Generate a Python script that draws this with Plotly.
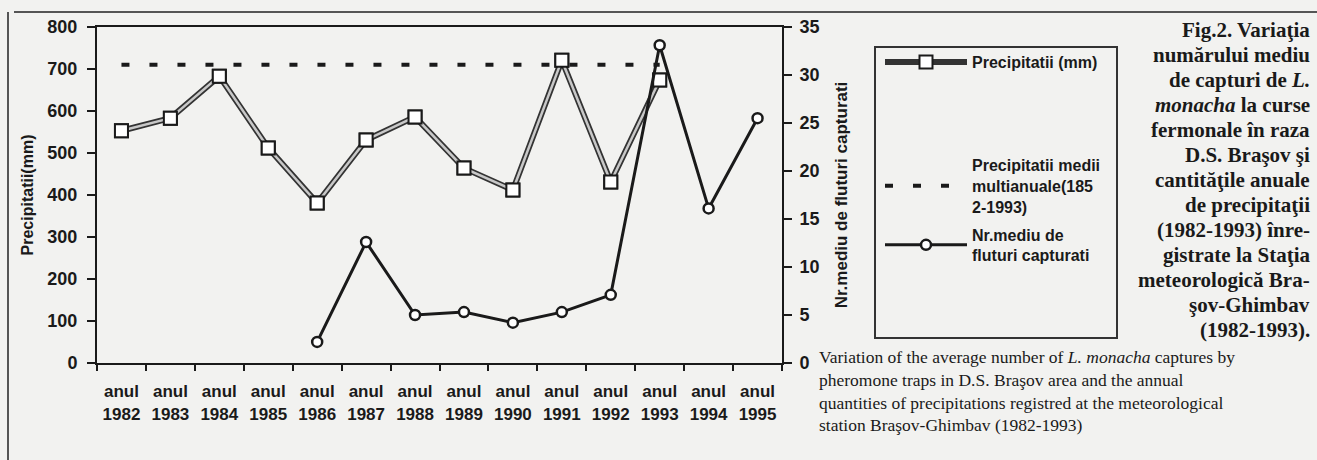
import plotly.graph_objects as go

years = ["1982", "1983", "1984", "1985", "1986", "1987", "1988",
         "1989", "1990", "1991", "1992", "1993", "1994", "1995"]
tick_labels = ["anul<br>" + y for y in years]

precip_years = years[:12]
precip_mm = [553, 583, 683, 512, 381, 531, 586, 464, 412, 721, 431, 674]
mean_precip = [710] * 12

capture_years = years[4:]
captures = [2.2, 12.6, 5.0, 5.3, 4.2, 5.3, 7.1, 33.1, 16.1, 25.5]

ro_lines = ["Fig.2. Variaţia", "numărului mediu", "de capturi de <i>L.</i>",
            "<i>monacha</i> la curse", "fermonale în raza", "D.S. Braşov şi",
            "cantităţile anuale", "de precipitaţii", "(1982-1993) înre-",
            "gistrate la Staţia", "meteorologică Bra-", "şov-Ghimbav",
            "(1982-1993)."]
en_lines = ["Variation of the average number of <i>L. monacha</i> captures by",
            "pheromone traps in D.S. Braşov area and the annual",
            "quantities of precipitations registred at the meteorological",
            "station Braşov-Ghimbav (1982-1993)"]

# plot area in pixels
L, R, T, B = 97, 782, 27, 363
W, H = 1317, 460


def px(x):
    return (x - L) / (R - L)


def py(y):
    return (B - y) / (B - T)


SANS = "Liberation Sans, Arial, sans-serif"
SERIF = "Liberation Serif, Times New Roman, serif"
INK = "#1a1a1a"

fig = go.Figure()

fig.add_trace(go.Scatter(
    x=precip_years, y=precip_mm, name="Precipitatii (mm)",
    mode="lines+markers", legend="legend",
    line=dict(color="#333333", width=6),
    marker=dict(symbol="square", size=13, color="white",
                line=dict(color=INK, width=2)),
))
fig.add_trace(go.Scatter(
    x=precip_years, y=precip_mm, mode="lines", showlegend=False,
    line=dict(color="#c8c8c8", width=2.5), hoverinfo="skip",
))
fig.add_trace(go.Scatter(
    x=precip_years, y=precip_mm, mode="markers", showlegend=False,
    marker=dict(symbol="square", size=13, color="white",
                line=dict(color=INK, width=2)), hoverinfo="skip",
))
fig.add_trace(go.Scatter(
    x=precip_years, y=mean_precip,
    name="Precipitatii medii<br>multianuale(185<br>2-1993)",
    mode="lines", legend="legend2",
    line=dict(color=INK, width=4, dash="8px,20px"),
))
fig.add_trace(go.Scatter(
    x=capture_years, y=captures, yaxis="y2",
    name="Nr.mediu de<br>fluturi capturati",
    mode="lines+markers", legend="legend3",
    line=dict(color=INK, width=3),
    marker=dict(symbol="circle", size=10, color="white",
                line=dict(color=INK, width=2.5)),
))

bg = "#f2f2f0"
legend_common = dict(
    xanchor="left", yanchor="middle", bgcolor="rgba(0,0,0,0)", borderwidth=0,
    font=dict(size=16, family=SANS, color=INK, weight="bold"), itemwidth=82,
)
fig.update_layout(
    width=W, height=H,
    margin=dict(l=L, r=W - R, t=T, b=H - B),
    paper_bgcolor=bg, plot_bgcolor=bg,
    font=dict(family=SANS, color=INK),
    xaxis=dict(
        type="category", categoryorder="array", categoryarray=years,
        tickmode="array", tickvals=years, ticktext=tick_labels,
        tickson="boundaries", ticks="outside", ticklen=6, tickwidth=2,
        tickcolor=INK, showline=True, linecolor=INK, linewidth=2,
        mirror=True, showgrid=False, range=[-0.5, 13.5],
        ticklabelstandoff=12,
        tickfont=dict(size=17, family=SANS, color=INK, weight="bold"),
    ),
    yaxis=dict(
        range=[0, 800], tickvals=[0, 100, 200, 300, 400, 500, 600, 700, 800],
        ticks="outside", ticklen=8, tickwidth=2, tickcolor=INK,
        showline=True, linecolor=INK, linewidth=2, showgrid=False,
        zeroline=False, ticklabelstandoff=6,
        tickfont=dict(size=18, family=SANS, color=INK, weight="bold"),
        title=dict(text="<b>Precipitatii(mm)</b>", standoff=10,
                   font=dict(size=16, family=SANS, color=INK)),
    ),
    yaxis2=dict(
        overlaying="y", side="right", range=[0, 35],
        tickvals=[0, 5, 10, 15, 20, 25, 30, 35],
        ticks="outside", ticklen=8, tickwidth=2, tickcolor=INK,
        showline=True, linecolor=INK, linewidth=2, showgrid=False,
        zeroline=False, ticklabelstandoff=4,
        tickfont=dict(size=18, family=SANS, color=INK, weight="bold"),
        title=dict(text="<b>Nr.mediu de fluturi capturati</b>", standoff=16,
                   font=dict(size=17, family=SANS, color=INK)),
    ),
    legend=dict(x=px(880), y=py(62), **legend_common),
    legend2=dict(x=px(880), y=py(186), **legend_common),
    legend3=dict(x=px(880), y=py(245), **legend_common),
    showlegend=True,
)

# legend frame and page frame lines
fig.add_shape(type="rect", xref="paper", yref="paper",
              x0=px(875), x1=px(1117), y0=py(338), y1=py(47),
              line=dict(color="#333333", width=2))
fig.add_shape(type="line", xref="paper", yref="paper",
              x0=px(14), x1=px(1317), y0=py(12), y1=py(12),
              line=dict(color="#555555", width=2))
fig.add_shape(type="line", xref="paper", yref="paper",
              x0=px(8), x1=px(8), y0=py(12), y1=py(460),
              line=dict(color="#555555", width=2))

for i, line in enumerate(ro_lines):
    fig.add_annotation(text="<b>" + line + "</b>", xref="paper", yref="paper",
                       x=px(1312), y=py(30 + i * 25), xanchor="right",
                       yanchor="middle", align="right", showarrow=False,
                       font=dict(family=SERIF, size=21, color=INK))

fig.add_annotation(text="<br>".join(en_lines), xref="paper", yref="paper",
                   x=px(817), y=py(345), xanchor="left",
                   yanchor="top", align="left", showarrow=False,
                   font=dict(family=SERIF, size=17.5, color=INK))

fig.write_html("out.html", config={"displayModeBar": False},
               post_script="document.body.style.margin='0';")
